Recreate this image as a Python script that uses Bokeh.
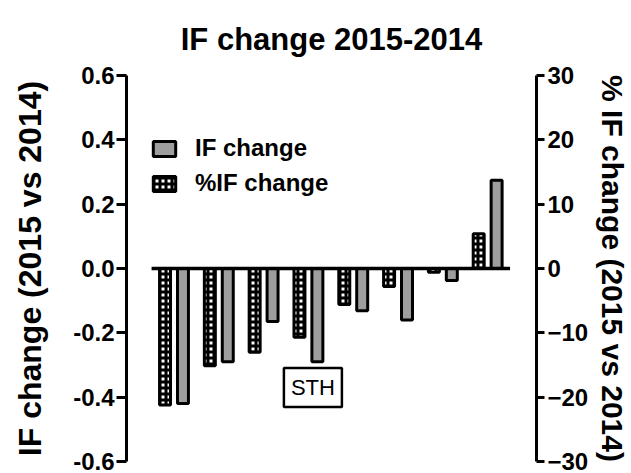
from bokeh.plotting import figure
from bokeh.models import Range1d, LinearAxis, FixedTicker, Label, Legend
from bokeh.embed import file_html
from bokeh.resources import INLINE

# ---- data ----
groups = [1, 2, 3, 4, 5, 6, 7, 8]
if_change = [-0.42, -0.29, -0.165, -0.29, -0.131, -0.16, -0.037, 0.274]
pct_if_change = [-21.2, -15.1, -13.0, -10.7, -5.6, -2.8, -0.6, 5.4]
left_ticks = [-0.6, -0.4, -0.2, 0.0, 0.2, 0.4, 0.6]
right_ticks = [-30, -20, -10, 0, 10, 20, 30]
note_text = "STH"
note_x = 4.1
note_y = -0.37

FONT = "Liberation Sans"

p = figure(width=631, height=473, frame_width=410, frame_height=386,
           output_backend="svg", toolbar_location=None,
           x_range=Range1d(-0.06, 9.09), y_range=Range1d(-0.6, 0.6),
           x_axis_location=None,
           min_border_left=126, min_border_right=95, min_border_top=75, min_border_bottom=12,
           title="IF change 2015-2014")
p.outline_line_color = None
p.xgrid.visible = False
p.ygrid.visible = False

p.title.text_font = FONT
p.title.text_font_size = "31px"
p.title.text_font_style = "bold"
p.title.text_color = "black"
p.title.align = "center"
p.title.standoff = 37

p.extra_y_ranges = {"pct": Range1d(-30, 30)}

gray = p.vbar(x=[g + 0.2 for g in groups], top=if_change, bottom=0, width=0.245,
              fill_color="#9e9e9e", line_color="black", line_width=3)
chk = p.vbar(x=[g - 0.2 for g in groups], top=pct_if_change, bottom=0, width=0.245,
             y_range_name="pct", fill_color="white", hatch_pattern="+",
             hatch_color="black", hatch_scale=6, hatch_weight=3,
             line_color="black", line_width=3)

p.line(x=[groups[0] - 0.5, groups[-1] + 0.5], y=[0, 0], line_color="black", line_width=3.5)

# left axis
ax = p.yaxis[0]
ax.ticker = FixedTicker(ticks=left_ticks)
ax.major_label_overrides = {t: f"{t:.1f}" for t in left_ticks}
ax.axis_label = "IF change (2015 vs 2014)"

rax = LinearAxis(y_range_name="pct", ticker=FixedTicker(ticks=right_ticks),
                 axis_label="% IF change (2015 vs 2014)")
p.add_layout(rax, "right")

for a, tout, so, lso, lfs in ((ax, 10, 2, 22, "32px"), (rax, 8, 3, 5, "30px")):
    a.axis_line_width = 3
    a.major_tick_line_width = 3
    a.major_tick_out = tout
    a.major_tick_in = 0
    a.minor_tick_line_color = None
    a.major_label_standoff = so
    a.major_label_text_font = FONT
    a.major_label_text_font_style = "bold"
    a.major_label_text_font_size = "24px"
    a.major_label_text_color = "black"
    a.axis_label_text_font = FONT
    a.axis_label_text_font_style = "bold"
    a.axis_label_text_font_size = lfs
    a.axis_label_text_color = "black"
    a.axis_label_standoff = lso

legend = Legend(items=[("IF change", [gray]), ("%IF change", [chk])],
                location=(24, 264), padding=0, margin=0, spacing=7,
                glyph_width=28, glyph_height=19, label_height=19,
                label_standoff=17, border_line_color=None, background_fill_alpha=0)
legend.label_text_font = FONT
legend.label_text_font_style = "bold"
legend.label_text_font_size = "24px"
legend.label_text_color = "black"
p.add_layout(legend)

lbl = Label(x=note_x, y=note_y, text=note_text, text_align="center", text_baseline="middle",
            text_font=FONT, text_font_size="22px", text_color="black",
            border_line_color="black", border_line_width=2.5,
            background_fill_color="white", padding=7)
p.add_layout(lbl)

open("out.html", "w").write(file_html(p, INLINE))
